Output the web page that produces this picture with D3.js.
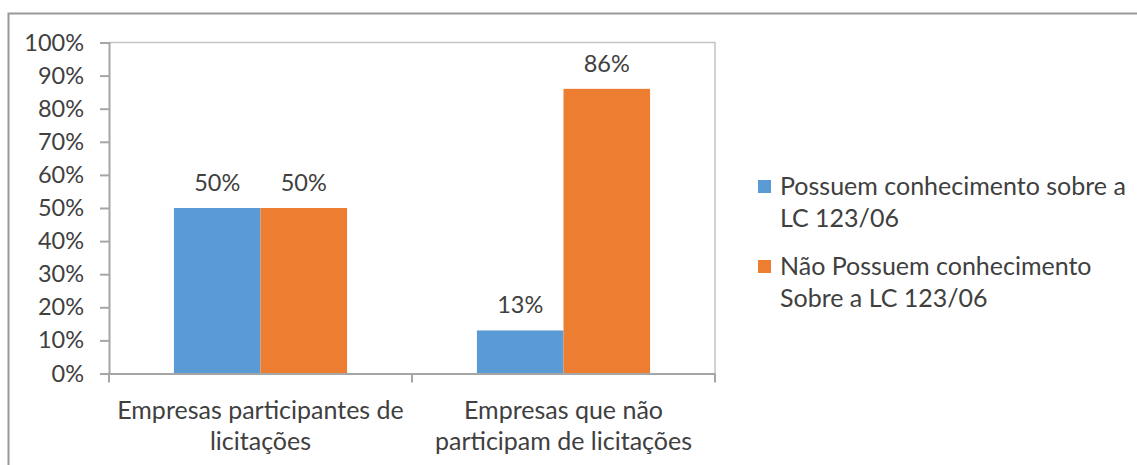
<!DOCTYPE html>
<html>
<head>
<meta charset="utf-8">
<script src="https://cdn.jsdelivr.net/npm/d3@7"></script>
<style>
  html, body { margin: 0; padding: 0; background: #fff; }
  svg { display: block; }
  text { font-family: Lato, "Liberation Sans", sans-serif; fill: #404040; }
</style>
</head>
<body>
<svg id="chart" width="1137" height="465"></svg>
<script>
// Categories (each label split into its two printed lines)
const categories = ["Empresas participantes de licitações", "Empresas que não participam de licitações"];
const categoryLines = [["Empresas participantes de", "licitações"], ["Empresas que não", "participam de licitações"]];

// Series
const seriesNames = ["Possuem conhecimento sobre a LC 123/06", "Não Possuem conhecimento Sobre a LC 123/06"];
const legendLines = [["Possuem conhecimento sobre a", "LC 123/06"], ["Não Possuem conhecimento", "Sobre a LC 123/06"]];
const knowValues = [50, 13];
const dontKnowValues = [50, 86];

// Y-axis ticks
const yTicks = [0, 10, 20, 30, 40, 50, 60, 70, 80, 90, 100];

const colors = ["#5B9BD5", "#ED7D31"];
const seriesValues = [knowValues, dontKnowValues];

const svg = d3.select("#chart");
const numSize = 23.5;   // numbers: ticks and value labels
const textSize = 25;    // words: categories and legend

const plot = { left: 109, right: 715, top: 42.5, bottom: 373.5 };

// Outer chart frame
svg.append("path")
  .attr("d", "M8.5,465 L8.5,13.5 L1137,13.5")
  .attr("fill", "none")
  .attr("stroke", "#999")
  .attr("stroke-width", 2);

const x = d3.scaleBand().domain(categories).range([plot.left, plot.right]).padding(0);
const xs = d3.scaleBand().domain(seriesNames).range([0, x.bandwidth()])
  .paddingInner(0).paddingOuter(0.75);
const y = d3.scaleLinear().domain([0, 100]).range([plot.bottom, plot.top]);

// Plot area border (top and right)
svg.append("path")
  .attr("d", `M${plot.left},${plot.top} L${plot.right},${plot.top} L${plot.right},${plot.bottom}`)
  .attr("fill", "none")
  .attr("stroke", "#c4c4c4")
  .attr("stroke-width", 1.5);

// Bars
const rows = categories.map((c, i) => ({ cat: c, vals: seriesNames.map((s, j) => ({ s, v: seriesValues[j][i], j })) }));
const groups = svg.append("g").selectAll("g").data(rows).join("g")
  .attr("transform", d => `translate(${x(d.cat)},0)`);

groups.selectAll("rect").data(d => d.vals).join("rect")
  .attr("x", d => xs(d.s))
  .attr("width", xs.bandwidth())
  .attr("y", d => y(d.v))
  .attr("height", d => y(0) - y(d.v))
  .attr("fill", d => colors[d.j]);

groups.selectAll("text.val").data(d => d.vals).join("text")
  .attr("class", "val")
  .attr("x", d => xs(d.s) + xs.bandwidth() / 2)
  .attr("y", d => y(d.v) - 17)
  .attr("text-anchor", "middle")
  .attr("font-size", numSize)
  .text(d => d.v + "%");

// Y axis
const yAxis = d3.axisLeft(y).tickValues(yTicks).tickFormat(d => d + "%").tickSize(9).tickPadding(16);
const gy = svg.append("g").attr("transform", `translate(${plot.left},0)`).call(yAxis);
gy.select(".domain").attr("stroke", "#a6a6a6").attr("stroke-width", 2);
gy.selectAll(".tick line").attr("stroke", "#a6a6a6").attr("stroke-width", 2);
gy.selectAll(".tick text").attr("font-size", numSize).attr("font-family", null).attr("fill", "#404040");

// X axis
const xAxis = d3.axisBottom(x).tickSize(0).tickFormat("");
const gx = svg.append("g").attr("transform", `translate(0,${plot.bottom})`).call(xAxis);
gx.select(".domain").attr("stroke", "#a6a6a6").attr("stroke-width", 2);
gx.selectAll(".tick").remove();
// Tick marks at category boundaries
const bounds = [...categories.map(c => x(c)), x(categories[categories.length - 1]) + x.bandwidth()];
gx.selectAll("line.b").data(bounds).join("line")
  .attr("class", "b")
  .attr("x1", d => d).attr("x2", d => d)
  .attr("y1", 0).attr("y2", 9)
  .attr("stroke", "#a6a6a6").attr("stroke-width", 2);

// Category labels
const catLabels = svg.append("g").selectAll("text").data(categories).join("text")
  .attr("x", d => x(d) + x.bandwidth() / 2)
  .attr("y", 419)
  .attr("text-anchor", "middle")
  .attr("font-size", textSize);
catLabels.selectAll("tspan").data((d, i) => categoryLines[i]).join("tspan")
  .attr("x", function () { return this.parentNode.getAttribute("x"); })
  .attr("dy", (d, i) => i === 0 ? 0 : 30.5)
  .text(d => d);

// Legend
const legendTop = [180, 260];
const legend = svg.append("g").selectAll("g").data(seriesNames).join("g");
legend.append("rect")
  .attr("x", 758)
  .attr("y", (d, i) => legendTop[i])
  .attr("width", 13)
  .attr("height", 13)
  .attr("fill", (d, i) => colors[i]);
const lt = legend.append("text")
  .attr("x", 780)
  .attr("y", (d, i) => legendTop[i] + 15)
  .attr("font-size", textSize);
lt.selectAll("tspan").data((d, i) => legendLines[i]).join("tspan")
  .attr("x", 780)
  .attr("dy", (d, i) => i === 0 ? 0 : 31.5)
  .text(d => d);
</script>
</body>
</html>
